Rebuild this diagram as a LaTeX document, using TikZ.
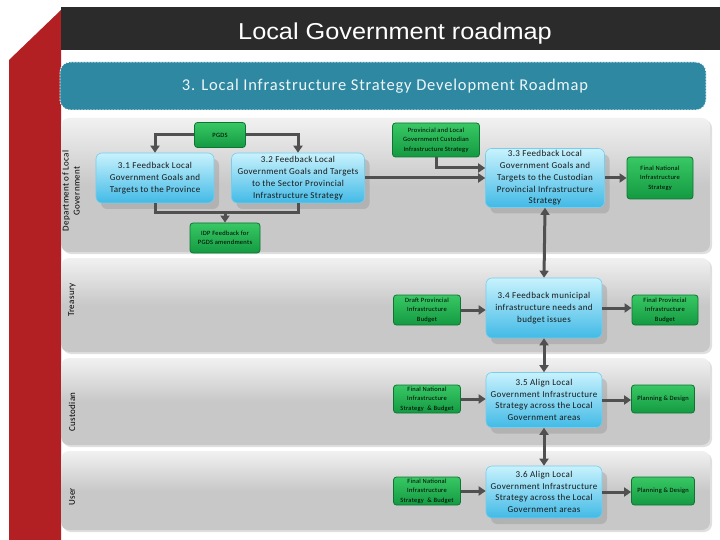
\documentclass[tikz,border=0pt]{standalone}
\usepackage{fontspec}
\setmainfont{Carlito}[LetterSpace=4]
\newfontfamily\headfont{Liberation Sans}
\newfontfamily\bannerfont{Carlito}[LetterSpace=5]
\usepackage{tikz}
\usetikzlibrary{arrows.meta,shadows}

\definecolor{barred}{RGB}{178,32,36}
\definecolor{bardark}{RGB}{43,43,43}
\definecolor{bannerteal}{RGB}{46,136,162}
\definecolor{lanegray}{RGB}{200,200,200}
\definecolor{linkgray}{RGB}{80,80,80}
\definecolor{proctop}{RGB}{200,242,253}
\definecolor{procbot}{RGB}{66,186,230}
\definecolor{procline}{RGB}{120,205,236}
\definecolor{outtop}{RGB}{56,200,100}
\definecolor{outbot}{RGB}{20,154,66}
\definecolor{outline}{RGB}{14,116,50}

\begin{document}
\begin{tikzpicture}[
    x=1pt, y=-1pt,
    every node/.style={font=\fontsize{9}{11.8}\selectfont, align=center, inner sep=0pt},
    lane/.style={rounded corners=8pt, top color=white!75!lanegray,
        bottom color=lanegray, middle color=lanegray,
        drop shadow={opacity=0.25, shadow xshift=2pt, shadow yshift=-2pt}},
    procbox/.style={draw=procline, rounded corners=6pt, line width=0.6pt,
        top color=proctop, bottom color=procbot, text=black!90,
        drop shadow={opacity=0.3, shadow xshift=5pt, shadow yshift=-6pt}},
    outbox/.style={draw=outline, rounded corners=3pt, line width=0.8pt,
        top color=outtop, bottom color=outbot, text=black,
        font=\fontsize{6.5}{9.5}\selectfont},
    lanelabel/.style={rotate=90, font=\fontsize{9}{11}\selectfont},
    plain/.style={draw=linkgray, line width=3pt},
    link/.style={plain, -{Triangle[length=7pt,width=9pt]}},
    bilink/.style={plain, {Triangle[length=7pt,width=9pt]}-{Triangle[length=7pt,width=9pt]}}
]
\useasboundingbox (0,0) rectangle (720,540);

% Red side band and title bar
\fill[barred] (9,60) -- (61,10) -- (61,540) -- (9,540) -- cycle;
\node[fill=bardark, minimum width=659, minimum height=43, anchor=north west] (bar) at (61,7) {};
\node[font=\headfont\fontsize{23}{25}\selectfont, text=white, xscale=1.1] (title) at (395,34)
    {Local Government roadmap};

% Banner
\node[fill=bannerteal, draw=white, line width=0.8pt, dash pattern=on 2pt off 1pt,
    rounded corners=10pt, minimum width=646, minimum height=48] (banner) at (383,86)
    {};
\node[font=\bannerfont\fontsize{16.5}{18}\selectfont, text=white!92!bannerteal] (bannertext)
    at (385,86) {3. Local Infrastructure Strategy Development Roadmap};

% Swim lanes
\path[lane] (61,118) rectangle (710,252);
\path[lane] (61,258) rectangle (710,352);
\path[lane] (61,358) rectangle (710,445);
\path[lane] (61,451) rectangle (710,530);

\node[lanelabel] (ldlg) at (71,191) {Department of Local\\Government};
\node[lanelabel] (ltre) at (72,300) {Treasury};
\node[lanelabel] (lcus) at (72,412) {Custodian};
\node[lanelabel] (luse) at (72,497) {User};

% Process steps
\node[procbox, minimum width=118, minimum height=50] (s31) at (155,178)
    {3.1 Feedback Local\\Government Goals and\\Targets to the Province};
\node[procbox, minimum width=133, minimum height=50] (s32) at (298,178)
    {3.2 Feedback Local\\Government Goals and Targets\\to the Sector Provincial\\Infrastructure Strategy};
\node[procbox, minimum width=119, minimum height=59] (s33) at (545,178)
    {3.3 Feedback Local\\Government Goals and\\Targets to the Custodian\\Provincial Infrastructure\\Strategy};
\node[procbox, minimum width=116, minimum height=60] (s34) at (544,308)
    {3.4 Feedback municipal\\infrastructure needs and\\budget issues};
\node[procbox, minimum width=116, minimum height=55] (s35) at (544,400)
    {3.5 Align Local\\Government Infrastructure\\Strategy across the Local\\Government areas};
\node[procbox, minimum width=116, minimum height=52] (s36) at (544,492)
    {3.6 Align Local\\Government Infrastructure\\Strategy across the Local\\Government areas};

% Inputs and outputs
\node[outbox, minimum width=51, minimum height=25] (pgds) at (220,135) {PGDS};
\node[outbox, minimum width=70, minimum height=30] (idp) at (225,238)
    {IDP Feedback for\\PGDS amendments};
\node[outbox, minimum width=87, minimum height=34] (prov) at (436,140)
    {Provincial and Local\\Government Custodian\\Infrastructure Strategy};
\node[outbox, minimum width=66, minimum height=42] (fnat) at (660,178)
    {Final National\\Infrastructure\\Strategy};
\node[outbox, minimum width=67, minimum height=30] (draft) at (427,310)
    {Draft Provincial\\Infrastructure\\Budget};
\node[outbox, minimum width=66, minimum height=30] (fprov) at (665,310)
    {Final Provincial\\Infrastructure\\Budget};
\node[outbox, minimum width=67, minimum height=28] (fnb5) at (427,399)
    {Final National\\Infrastructure\\Strategy\ \ \& Budget};
\node[outbox, minimum width=63, minimum height=28] (plan5) at (663,399)
    {Planning \& Design};
\node[outbox, minimum width=67, minimum height=28] (fnb6) at (427,491)
    {Final National\\Infrastructure\\Strategy\ \ \& Budget};
\node[outbox, minimum width=63, minimum height=28] (plan6) at (663,491)
    {Planning \& Design};

% Connectors
\draw[link] (pgds.west) -| (s31.north);
\draw[link] (pgds.east) -| (s32.north);
\coordinate (join) at (225,213);
\draw[plain] (s31.south) |- (join) -| (s32.south);
\draw[link] (join) -- (idp.north);
\draw[link] (s32.east) -- (s32.east -| s33.west);
\draw[link] (prov.south) |- ([yshift=10pt]s33.west);
\draw[link] (s33.east) -- (s33.east -| fnat.west);

\draw[bilink] (s33.south) -- (s34.north);
\draw[bilink] (s34.south) -- (s35.north);
\draw[bilink] (s35.south) -- (s36.north);

\draw[link] (draft.east) -- (draft.east -| s34.west);
\draw[link] (s34.east) -- (s34.east -| fprov.west);
\draw[link] (fnb5.east) -- (fnb5.east -| s35.west);
\draw[link] (s35.east) -- (s35.east -| plan5.west);
\draw[link] (fnb6.east) -- (fnb6.east -| s36.west);
\draw[link] (s36.east) -- (s36.east -| plan6.west);

\end{tikzpicture}
\end{document}
